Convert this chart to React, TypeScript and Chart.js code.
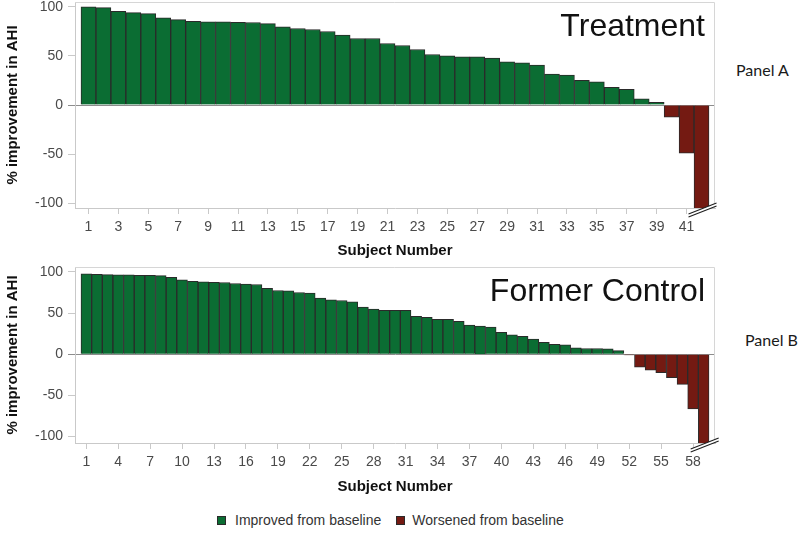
import React, { useEffect, useRef } from 'react';
import { Chart, registerables } from 'chart.js';

Chart.register(...registerables);

const FONT = '"Liberation Sans", Arial, Helvetica, sans-serif';

// Panel A – Treatment
const treatmentSubjects = [
  1, 2, 3, 4, 5, 6, 7, 8, 9, 10, 11, 12, 13, 14, 15, 16, 17, 18, 19, 20, 21,
  22, 23, 24, 25, 26, 27, 28, 29, 30, 31, 32, 33, 34, 35, 36, 37, 38, 39, 40, 41, 42,
];
const treatmentValues = [
  100, 99.3, 95.6, 94.2, 93.2, 88.8, 87.1, 85.4, 84.7, 84.7,
  84.4, 84.1, 83, 79.7, 78, 77, 74.9, 71.2, 67.8, 67.8,
  62.7, 60.7, 56.6, 51.5, 50.2, 49.2, 49.2, 47.8, 44.1, 43,
  40.7, 31.5, 30.5, 25.1, 23.7, 18, 15.9, 6.4, 2.7,
  -12.5, -49, -110,
];
const treatmentTickLabels = [1, 3, 5, 7, 9, 11, 13, 15, 17, 19, 21, 23, 25, 27, 29, 31, 33, 35, 37, 39, 41];

// Panel B – Former Control
const formerSubjects = [
  1, 2, 3, 4, 5, 6, 7, 8, 9, 10, 11, 12, 13, 14, 15, 16, 17, 18, 19, 20,
  21, 22, 23, 24, 25, 26, 27, 28, 29, 30, 31, 32, 33, 34, 35, 36, 37, 38, 39, 40,
  41, 42, 43, 44, 45, 46, 47, 48, 49, 50, 51, 52, 53, 54, 55, 56, 57, 58, 59,
];
const formerValues = [
  97.6, 97.2, 96.8, 96.4, 96.4, 96, 96, 95.6, 93.5, 90.3,
  88.7, 87.9, 87.5, 87.1, 85.9, 85.1, 84.7, 80.2, 77.4, 77,
  75, 74.2, 68.1, 66.1, 65.3, 63.7, 57.3, 54.8, 53.2, 53.2,
  53.2, 46, 44.8, 42.3, 42.3, 39.9, 35.5, 34.3, 33.1, 26.6,
  23.4, 21.8, 18.5, 14.5, 12.1, 11.3, 7.7, 6.9, 6.9, 6.5,
  4.4, -1, -15.7, -19.4, -22.6, -28.6, -36.7, -66.5, -115,
];
const formerTickLabels = [1, 4, 7, 10, 13, 16, 19, 22, 25, 28, 31, 34, 37, 40, 43, 46, 49, 52, 55, 58];

const yTickValues = [100, 50, 0, -50, -100];
const treatmentYRange = [-105, 105];
const formerYRange = [-108, 106];

const seriesNames = ['Improved from baseline', 'Worsened from baseline'];
const IMPROVED_COLOR = '#0b6d33';
const WORSENED_COLOR = '#741a12';
const BAR_BORDER = '#2a2a2a';
const AXIS_GRAY = '#c9c9c9';

const framePlugin = {
  id: 'frame',
  beforeDatasetsDraw(chart: any) {
    const { ctx, chartArea } = chart;
    ctx.save();
    ctx.strokeStyle = '#d6d6d6';
    ctx.lineWidth = 1;
    ctx.beginPath();
    ctx.moveTo(chartArea.left, chartArea.top + 0.5);
    ctx.lineTo(chartArea.right - 0.5, chartArea.top + 0.5);
    ctx.lineTo(chartArea.right - 0.5, chartArea.bottom);
    ctx.stroke();
    ctx.restore();
  },
};

const axisBreakPlugin = {
  id: 'axisBreak',
  afterDraw(chart: any) {
    const data = chart.data.datasets[1].data;
    const last = data[data.length - 1];
    const cx = chart.scales.x.getPixelForValue(last.x);
    const by = chart.chartArea.bottom;
    const { ctx } = chart;
    const x1 = cx - 13;
    const x2 = cx + 15;
    const u1 = by + 6;
    const u2 = by - 5;
    const gap = 3;
    ctx.save();
    ctx.fillStyle = '#ffffff';
    ctx.beginPath();
    ctx.moveTo(x1, u1);
    ctx.lineTo(x2, u2);
    ctx.lineTo(x2, u2 + gap);
    ctx.lineTo(x1, u1 + gap);
    ctx.closePath();
    ctx.fill();
    ctx.strokeStyle = '#1e1e1e';
    ctx.lineWidth = 1.1;
    ctx.beginPath();
    ctx.moveTo(x1, u1);
    ctx.lineTo(x2, u2);
    ctx.moveTo(x1, u1 + gap);
    ctx.lineTo(x2, u2 + gap);
    ctx.stroke();
    ctx.restore();
  },
};

function buildConfig(
  subjects: number[],
  values: number[],
  xTickLabels: number[],
  yRange: number[],
  padTop: number,
  xAxisHeight: number,
): any {
  const n = subjects.length;
  const padUnits = 6 / (628 / n);
  const improved = subjects.map((s, i) => ({ x: s, y: values[i] >= 0 ? values[i] : null }));
  const worsened = subjects.map((s, i) => ({ x: s, y: values[i] < 0 ? values[i] : null }));
  return {
    type: 'bar',
    data: {
      datasets: [
        {
          label: seriesNames[0],
          data: improved,
          backgroundColor: IMPROVED_COLOR,
          borderColor: BAR_BORDER,
          borderWidth: 1,
          barPercentage: 1,
          categoryPercentage: 1,
          grouped: false,
        },
        {
          label: seriesNames[1],
          data: worsened,
          backgroundColor: WORSENED_COLOR,
          borderColor: BAR_BORDER,
          borderWidth: 1,
          barPercentage: 1,
          categoryPercentage: 1,
          grouped: false,
        },
      ],
    },
    options: {
      responsive: false,
      animation: false,
      events: [],
      layout: { padding: { top: padTop, right: 10, left: 0, bottom: 0 } },
      plugins: {
        legend: { display: false },
        tooltip: { enabled: false },
        title: { display: false },
      },
      scales: {
        x: {
          type: 'linear',
          offset: false,
          min: subjects[0] - 0.5 - padUnits,
          max: subjects[n - 1] + 0.5 + padUnits,
          afterBuildTicks: (s: any) => {
            s.ticks = xTickLabels.map((v) => ({ value: v }));
          },
          afterFit: (s: any) => {
            s.height = xAxisHeight;
            s.paddingLeft = 0;
            s.paddingRight = 0;
          },
          grid: {
            drawOnChartArea: false,
            tickLength: 6,
            tickColor: AXIS_GRAY,
            offset: false,
          },
          border: { color: AXIS_GRAY },
          ticks: {
            autoSkip: false,
            maxRotation: 0,
            color: '#4a4a4a',
            padding: 5,
            font: { family: FONT, size: 14 },
            callback: (v: any) => String(v),
          },
          title: {
            display: true,
            text: 'Subject Number',
            color: '#111111',
            font: { family: FONT, size: 15, weight: 'bold' },
            padding: { top: 4, bottom: 4 },
          },
        },
        y: {
          min: yRange[0],
          max: yRange[1],
          afterBuildTicks: (s: any) => {
            s.ticks = yTickValues.map((v) => ({ value: v }));
          },
          afterFit: (s: any) => {
            s.width = 75;
            s.paddingTop = 0;
            s.paddingBottom = 0;
          },
          grid: {
            drawOnChartArea: true,
            color: (c: any) => (c.tick && c.tick.value === 0 ? '#8c8c8c' : 'rgba(0,0,0,0)'),
            tickColor: (c: any) => (c.tick && c.tick.value === 0 ? '#8c8c8c' : AXIS_GRAY),
            tickLength: 7,
          },
          border: { color: AXIS_GRAY },
          ticks: {
            color: '#4a4a4a',
            padding: 5,
            font: { family: FONT, size: 14 },
            callback: (v: any) => String(v),
          },
          title: {
            display: true,
            text: '% improvement in AHI',
            color: '#111111',
            font: { family: FONT, size: 15, weight: 'bold' },
            padding: { top: 4, bottom: 4 },
          },
        },
      },
    },
    plugins: [framePlugin, axisBreakPlugin],
  };
}

function BarPanel(props: { config: any; top: number; width: number; height: number }) {
  const ref = useRef<HTMLCanvasElement>(null);
  useEffect(() => {
    if (!ref.current) return;
    const chart = new Chart(ref.current, props.config);
    return () => chart.destroy();
  }, []);
  return (
    <canvas
      ref={ref}
      width={props.width}
      height={props.height}
      style={{ position: 'absolute', left: 0, top: props.top, width: props.width, height: props.height }}
    />
  );
}

const bigTitle: React.CSSProperties = {
  position: 'absolute',
  right: 95,
  fontFamily: FONT,
  fontSize: 32,
  lineHeight: '32px',
  color: '#111111',
  whiteSpace: 'nowrap',
};

const panelLabel: React.CSSProperties = {
  position: 'absolute',
  fontFamily: 'Lato, "Open Sans", sans-serif',
  fontSize: 16,
  lineHeight: '16px',
  color: '#1a1a1a',
  whiteSpace: 'nowrap',
};

const swatch = (color: string): React.CSSProperties => ({
  display: 'inline-block',
  width: 9,
  height: 9,
  boxSizing: 'border-box',
  background: color,
  border: '1px solid #2a2a2a',
});

export default function App() {
  const configA = buildConfig(treatmentSubjects, treatmentValues, treatmentTickLabels, treatmentYRange, 2, 56);
  const configB = buildConfig(formerSubjects, formerValues, formerTickLabels, formerYRange, 5, 57);
  return (
    <div
      style={{
        position: 'absolute',
        left: 0,
        top: 0,
        width: 800,
        height: 542,
        background: '#ffffff',
        overflow: 'hidden',
      }}
    >
      <BarPanel config={configA} top={0} width={725} height={264} />
      <BarPanel config={configB} top={262} width={725} height={238} />
      <div style={{ ...bigTitle, top: 9 }}>Treatment</div>
      <div style={{ ...bigTitle, top: 274 }}>Former Control</div>
      <div style={{ ...panelLabel, left: 736, top: 62 }}>Panel A</div>
      <div style={{ ...panelLabel, left: 745, top: 332 }}>Panel B</div>
      <div
        style={{
          position: 'absolute',
          left: 217,
          top: 511,
          height: 18,
          display: 'flex',
          alignItems: 'center',
          fontFamily: FONT,
          fontSize: 14,
          color: '#333333',
          whiteSpace: 'nowrap',
        }}
      >
        <span style={{ ...swatch(IMPROVED_COLOR), marginRight: 9 }} />
        <span style={{ marginRight: 15 }}>{seriesNames[0]}</span>
        <span style={{ ...swatch(WORSENED_COLOR), marginRight: 7 }} />
        <span>{seriesNames[1]}</span>
      </div>
    </div>
  );
}
